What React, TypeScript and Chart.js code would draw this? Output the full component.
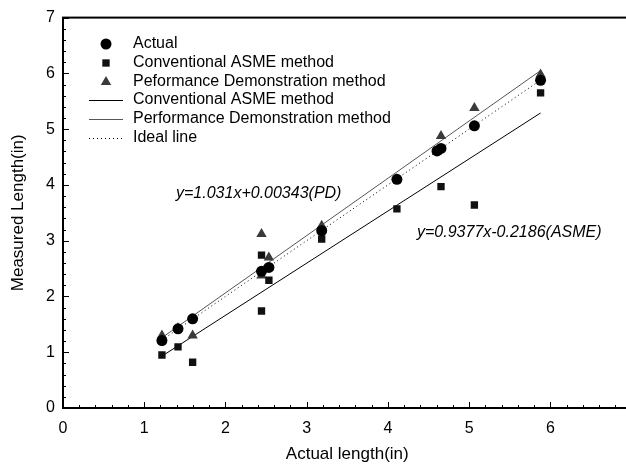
import React, { useEffect, useRef } from "react";
import { Chart, registerables } from "chart.js";

Chart.register(...registerables);

// ---- Data ----
const actualX = [1.218, 1.416, 1.596, 2.444, 2.535, 3.185, 4.111, 4.605, 4.654, 5.065, 5.88];
const actualY = [1.21, 1.42, 1.6, 2.45, 2.52, 3.18, 4.1, 4.61, 4.655, 5.06, 5.875];

const asmeX = [1.218, 1.416, 1.596, 2.444, 2.444, 2.535, 3.185, 4.111, 4.654, 5.065, 5.88];
const asmeY = [0.95, 1.095, 0.82, 2.74, 1.74, 2.29, 3.03, 3.57, 3.97, 3.64, 5.65];

const pdX = [1.218, 1.416, 1.596, 2.444, 2.444, 2.535, 3.185, 4.111, 4.605, 4.654, 5.065, 5.88];
const pdY = [1.3, 1.43, 1.3, 3.12, 2.375, 2.7, 3.27, 4.1, 4.6, 4.875, 5.38, 5.98];

const fitX = [1.218, 5.88];
const asmeFitY = [0.93, 5.29];
const pdFitY = [1.26, 6.05];
const idealY = [1.218, 5.88];

const xTickValues = [0, 1, 2, 3, 4, 5, 6, 7];
const yTickValues = [0, 1, 2, 3, 4, 5, 6, 7];

const seriesLabels = [
  "Actual",
  "Conventional ASME method",
  "Peformance Demonstration method",
  "Conventional ASME method",
  "Performance Demonstration method",
  "Ideal line",
];

const pdEquation = "y=1.031x+0.00343(PD)";
const asmeEquation = "y=0.9377x-0.2186(ASME)";
const xTitle = "Actual length(in)";
const yTitle = "Measured Length(in)";

const FONT = "'Liberation Sans', Arial, Helvetica, sans-serif";
const TRI_COLOR = "#3a3a3a";
const PD_LINE_COLOR = "#555555";

const pts = (xs: number[], ys: number[]) => xs.map((x, i) => ({ x, y: ys[i] }));

function drawMarker(ctx: CanvasRenderingContext2D, style: string, x: number, y: number, r: number, color: string) {
  ctx.fillStyle = color;
  ctx.beginPath();
  if (style === "circle") {
    ctx.arc(x, y, r, 0, Math.PI * 2);
  } else if (style === "rect") {
    const s = r * Math.SQRT1_2;
    ctx.rect(x - s, y - s, 2 * s, 2 * s);
  } else {
    let rad = 0;
    ctx.moveTo(x + Math.sin(rad) * r, y - Math.cos(rad) * r);
    rad += (2 * Math.PI) / 3;
    ctx.lineTo(x + Math.sin(rad) * r, y - Math.cos(rad) * r);
    rad += (2 * Math.PI) / 3;
    ctx.lineTo(x + Math.sin(rad) * r, y - Math.cos(rad) * r);
    ctx.closePath();
  }
  ctx.fill();
}

const framePlugin = {
  id: "framePlugin",
  afterDraw(chart: any) {
    const { ctx, chartArea: a, scales } = chart;
    const xs = scales.x;
    const ys = scales.y;
    ctx.save();
    ctx.strokeStyle = "#000";
    ctx.lineWidth = 1;
    // minor / major ticks (inside)
    for (let i = 0; i <= 35; i++) {
      const len = i % 5 === 0 ? 6 : 3;
      const px = Math.round(xs.getPixelForValue(i / 5)) + 0.5;
      ctx.beginPath();
      ctx.moveTo(px, a.bottom);
      ctx.lineTo(px, a.bottom - len);
      ctx.stroke();
      const py = Math.round(ys.getPixelForValue(i / 5)) + 0.5;
      ctx.beginPath();
      ctx.moveTo(a.left, py);
      ctx.lineTo(a.left + len, py);
      ctx.stroke();
    }
    // frame
    ctx.lineWidth = 2;
    ctx.strokeRect(a.left, a.top, a.right - a.left, a.bottom - a.top);

    // legend
    const rows = [44, 63, 82, 100, 119, 138];
    const mx = 106;
    ctx.font = `16px ${FONT}`;
    ctx.textBaseline = "middle";
    ctx.textAlign = "left";
    seriesLabels.forEach((label, i) => {
      const y = rows[i];
      if (i === 0) drawMarker(ctx, "circle", mx, y, 5.5, "#000");
      else if (i === 1) drawMarker(ctx, "rect", mx, y, 5.2, "#111");
      else if (i === 2) drawMarker(ctx, "triangle", mx, y, 6, TRI_COLOR);
      else {
        ctx.save();
        ctx.lineWidth = 1;
        ctx.strokeStyle = i === 4 ? PD_LINE_COLOR : "#000";
        if (i === 5) ctx.setLineDash([1, 3]);
        ctx.beginPath();
        ctx.moveTo(89, y + 0.5);
        ctx.lineTo(123, y + 0.5);
        ctx.stroke();
        ctx.restore();
      }
      ctx.fillStyle = "#000";
      ctx.fillText(label, 133, y);
    });

    // equations
    ctx.font = `italic 16px ${FONT}`;
    ctx.fillStyle = "#000";
    ctx.fillText(pdEquation, 176, 194);
    ctx.fillText(asmeEquation, 417, 233);
    ctx.restore();
  },
};

export default function App() {
  const ref = useRef<HTMLCanvasElement | null>(null);

  useEffect(() => {
    if (!ref.current) return;
    const chart = new Chart(ref.current, {
      type: "scatter",
      data: {
        datasets: [
          {
            label: seriesLabels[0],
            data: pts(actualX, actualY),
            pointStyle: "circle",
            pointRadius: 5.5,
            pointHoverRadius: 5.5,
            backgroundColor: "#000",
            borderWidth: 0,
          },
          {
            label: seriesLabels[1],
            data: pts(asmeX, asmeY),
            pointStyle: "rect",
            pointRadius: 5.2,
            pointHoverRadius: 5.2,
            backgroundColor: "#111",
            borderWidth: 0,
          },
          {
            label: seriesLabels[2],
            data: pts(pdX, pdY),
            pointStyle: "triangle",
            pointRadius: 6,
            pointHoverRadius: 6,
            backgroundColor: TRI_COLOR,
            borderWidth: 0,
          },
          {
            label: seriesLabels[3],
            data: pts(fitX, asmeFitY),
            showLine: true,
            pointRadius: 0,
            borderColor: "#000",
            borderWidth: 1,
          },
          {
            label: seriesLabels[4],
            data: pts(fitX, pdFitY),
            showLine: true,
            pointRadius: 0,
            borderColor: PD_LINE_COLOR,
            borderWidth: 1,
          },
          {
            label: seriesLabels[5],
            data: pts(fitX, idealY),
            showLine: true,
            pointRadius: 0,
            borderColor: "#000",
            borderWidth: 1,
            borderDash: [1, 3],
          },
        ],
      },
      options: {
        responsive: false,
        animation: false,
        events: [],
        layout: { padding: { left: 0, top: 16, right: 10, bottom: 0 } },
        plugins: {
          legend: { display: false },
          tooltip: { enabled: false },
        },
        scales: {
          x: {
            type: "linear",
            min: 0,
            max: 7,
            afterFit: (s: any) => {
              s.height = 60;
            },
            afterBuildTicks: (s: any) => {
              s.ticks = xTickValues.map((v) => ({ value: v }));
            },
            grid: { display: false, drawTicks: false },
            border: { display: false },
            ticks: {
              padding: 11,
              color: "#000",
              font: { family: FONT, size: 16 },
              maxRotation: 0,
              autoSkip: false,
            },
            title: {
              display: true,
              text: xTitle,
              color: "#000",
              font: { family: FONT, size: 17 },
              padding: { top: 0, bottom: 3 },
            },
          },
          y: {
            type: "linear",
            min: 0,
            max: 7,
            afterFit: (s: any) => {
              s.width = 63;
            },
            afterBuildTicks: (s: any) => {
              s.ticks = yTickValues.map((v) => ({ value: v }));
            },
            grid: { display: false, drawTicks: false },
            border: { display: false },
            ticks: {
              padding: 8,
              color: "#000",
              font: { family: FONT, size: 16 },
              autoSkip: false,
            },
            title: {
              display: true,
              text: yTitle,
              color: "#000",
              font: { family: FONT, size: 17 },
              padding: { top: 8, bottom: 0 },
            },
          },
        },
      },
      plugins: [framePlugin],
    });
    return () => chart.destroy();
  }, []);

  return (
    <div
      style={{
        position: "fixed",
        left: 0,
        top: 0,
        width: 626,
        height: 468,
        overflow: "hidden",
        background: "#fff",
      }}
    >
      <canvas ref={ref} width={647} height={468} style={{ display: "block" }} />
    </div>
  );
}
